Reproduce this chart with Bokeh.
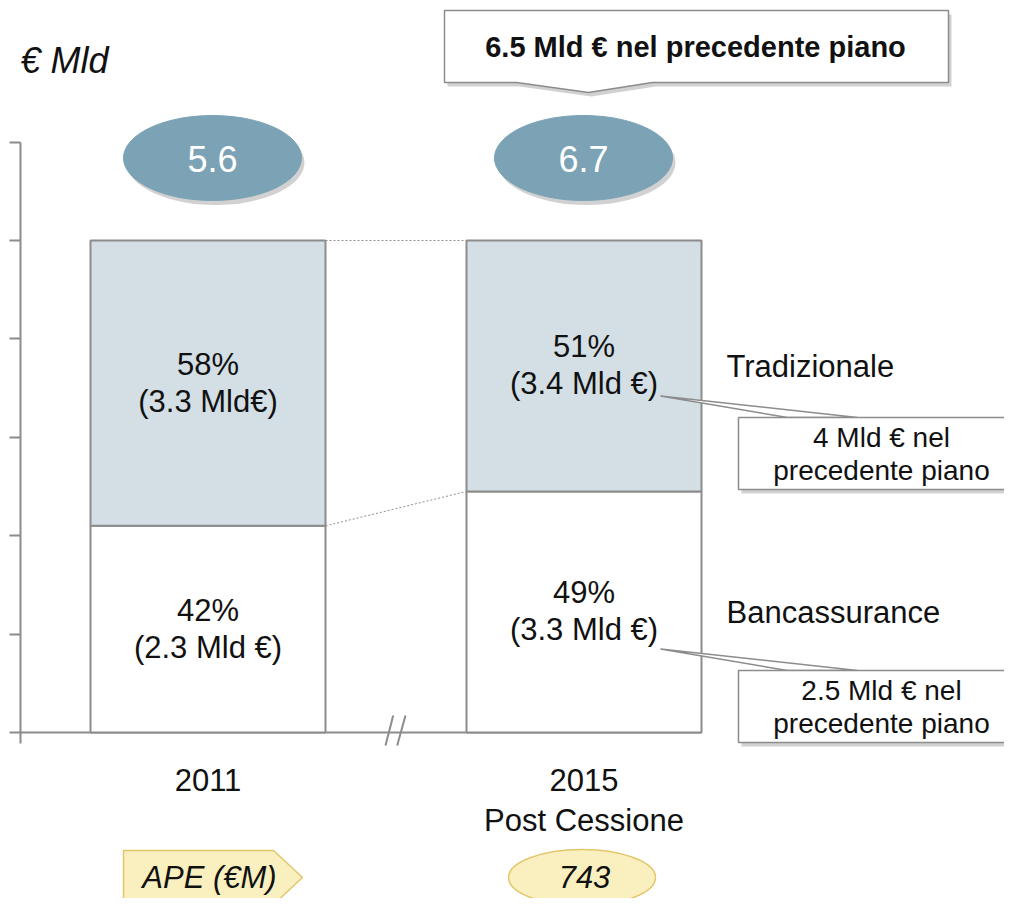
from bokeh.plotting import figure
from bokeh.models import Range1d, FixedTicker, ColumnDataSource
from bokeh.core.properties import value
from bokeh.embed import file_html
from bokeh.resources import INLINE

# ---------------- data ----------------
categories = ["2011", "2015"]
subtitles = ["", "Post Cessione"]
series_names = ["Bancassurance", "Tradizionale"]
banc_share = [42, 49]
trad_share = [58, 51]
banc_labels = ["(2.3 Mld €)", "(3.3 Mld €)"]
trad_labels = ["(3.3 Mld€)", "(3.4 Mld €)"]
totals = [5.6, 6.7]
prev_total_note = "6.5 Mld € nel precedente piano"
prev_trad_note = ["4 Mld € nel", "precedente piano"]
prev_banc_note = ["2.5 Mld € nel", "precedente piano"]
ape_label = "APE (€M)"
ape_2015 = 743
y_ticks = [0, 20, 40, 60, 80, 100, 120]
unit_label = "€ Mld"

# ---------------- layout helpers (pixel -> data) ----------------
W, H = 1004, 898
BORDER_L = 20
PX_PER_X = 376.0
PX_PER_Y = 4.92
X0_PX = 207.5
BASE_PX = 732.0
TS = -11.5  # text baseline correction (screen px)


def X(px):
    return 1 + (px - X0_PX) / PX_PER_X


def Y(py):
    return (BASE_PX - py) / PX_PER_Y


FONT = value("Liberation Sans")
TXT = "#111111"
GRAY = "#8c8c8c"
BAR_W = 235 / PX_PER_X

p = figure(width=W, height=H, output_backend="svg", toolbar_location=None,
           x_range=Range1d(X(BORDER_L), X(W)), y_range=Range1d(Y(H), Y(0)),
           min_border_left=BORDER_L, min_border_right=0, min_border_top=0,
           min_border_bottom=0, x_axis_location=None)
p.xgrid.visible = False
p.ygrid.visible = False
p.outline_line_color = None
p.background_fill_color = "white"

ax = p.yaxis[0]
ax.ticker = FixedTicker(ticks=y_ticks)
ax.major_label_text_font_size = "0px"
ax.major_label_overrides = {t: "" for t in y_ticks}
ax.major_label_standoff = 0
ax.major_tick_out = 11
ax.major_tick_in = 0
ax.minor_tick_line_color = None
ax.axis_line_color = GRAY
ax.axis_line_width = 2
ax.major_tick_line_color = GRAY
ax.major_tick_line_width = 2
ax.bounds = (Y(743), y_ticks[-1])

xs = [i + 1 for i in range(len(categories))]
tops = [b + t for b, t in zip(banc_share, trad_share)]
src = ColumnDataSource(dict(x=xs, banc=banc_share, top=tops,
                            banc_mid=[b / 2 for b in banc_share],
                            trad_mid=[b + t / 2 for b, t in zip(banc_share, trad_share)],
                            banc_pct=[f"{b}%" for b in banc_share],
                            trad_pct=[f"{t}%" for t in trad_share],
                            banc_lab=banc_labels, trad_lab=trad_labels,
                            cat=categories, sub=subtitles))

# baseline and break marks
p.segment(x0=[X(BORDER_L)], y0=[0], x1=[xs[1] + BAR_W / 2], y1=[0], line_color=GRAY, line_width=2)
p.segment(x0=[X(392.7), X(405)], y0=[Y(715), Y(715)], x1=[X(385), X(396.7)], y1=[Y(745), Y(745)],
          line_color=GRAY, line_width=2)

# bars
p.vbar(x="x", width=BAR_W, bottom=0, top="banc", source=src, fill_color="white",
       line_color=GRAY, line_width=2)
p.vbar(x="x", width=BAR_W, bottom="banc", top="top", source=src, fill_color="#d3dfe5",
       line_color=GRAY, line_width=2)

# dotted connectors
p.segment(x0=[xs[0] + BAR_W / 2] * 2, y0=[tops[0], banc_share[0]],
          x1=[xs[1] - BAR_W / 2] * 2, y1=[tops[1], banc_share[1]],
          line_color="#909090", line_width=1, line_dash="2 2")

# bar labels
common = dict(text_font=FONT, text_font_size=value("31px"), text_color=TXT,
              text_align="center", text_baseline="alphabetic")
p.text(x="x", y="trad_mid", text="trad_pct", y_offset=-7.5 + TS, source=src, **common)
p.text(x="x", y="trad_mid", text="trad_lab", y_offset=29.5 + TS, source=src, **common)
p.text(x="x", y="banc_mid", text="banc_pct", y_offset=-7.5 + TS, source=src, **common)
p.text(x="x", y="banc_mid", text="banc_lab", y_offset=29.5 + TS, source=src, **common)

# category labels
p.text(x="x", y=0, text="cat", y_offset=59 + TS, source=src, **common)
p.text(x="x", y=0, text="sub", y_offset=99 + TS, source=src, **common)

# series labels
left = dict(common, text_align="left")
p.text(x=[X(726), X(726)], y=[banc_share[1] + trad_share[1] / 2, banc_share[1] / 2],
       text=[series_names[1], series_names[0]], y_offset=12 + TS, **left)

# unit label
p.text(x=[X(20)], y=[Y(71)], y_offset=TS, text=[unit_label], text_font=FONT,
       text_font_size=value("36px"), text_font_style="italic", text_color=TXT,
       text_align="left", text_baseline="alphabetic")

# total ellipses
ex = [X(212), X(583)]
p.ellipse(x=[e + 3 / PX_PER_X for e in ex], y=[Y(162)] * 2, width=178 / PX_PER_X,
          height=85 / PX_PER_Y, fill_color="#9a9a9a", fill_alpha=0.45, line_color=None)
p.ellipse(x=ex, y=[Y(157.5)] * 2, width=178 / PX_PER_X, height=85 / PX_PER_Y,
          fill_color="#7ba3b5", line_color="#7ba3b5", line_width=1)
p.text(x=ex, y=[Y(170)] * 2, y_offset=TS, text=[f"{t:.1f}" for t in totals], text_font=FONT,
       text_font_size=value("36px"), text_color="white", text_align="center",
       text_baseline="alphabetic")

# top callout
tc_px = [(444, 10), (948, 10), (948, 82), (652, 82), (588, 92), (516, 82), (444, 82)]
p.patch(x=[X(a + 3) for a, b in tc_px], y=[Y(b + 4) for a, b in tc_px],
        fill_color="#999999", fill_alpha=0.45, line_color=None)
p.patch(x=[X(a) for a, b in tc_px], y=[Y(b) for a, b in tc_px],
        fill_color="white", line_color=GRAY, line_width=1.5)
p.text(x=[X(695)], y=[Y(58)], y_offset=TS, text=[prev_total_note], text_font=FONT,
       text_font_size=value("29px"), text_font_style="bold", text_color=TXT,
       text_align="center", text_baseline="alphabetic")

# side callouts
for dy, lines in ((0, prev_trad_note), (253, prev_banc_note)):
    wedge = [(660, 395.5 + dy), (787, 417 + dy), (857, 417 + dy)]
    p.patch(x=[X(a) for a, b in wedge], y=[Y(b) for a, b in wedge],
            fill_color="white", line_color=GRAY, line_width=1.5)
    p.quad(left=[X(741)], right=[X(1040)], top=[Y(420 + dy)], bottom=[Y(493 + dy)],
           fill_color="#999999", fill_alpha=0.45, line_color=None)
    p.quad(left=[X(738)], right=[X(1030)], top=[Y(417 + dy)], bottom=[Y(489 + dy)],
           fill_color="white", line_color=GRAY, line_width=1.5)
    p.text(x=[X(881), X(881)], y=[Y(448 + dy), Y(481 + dy)], y_offset=TS, text=lines,
           text_font=FONT, text_font_size=value("28px"), text_color=TXT, text_align="center",
           text_baseline="alphabetic")

# APE row (lifted slightly so its text fits inside the figure)
ape_px = [(123, 850), (273, 850), (302, 877), (273, 904), (123, 904)]
p.patch(x=[X(a) for a, b in ape_px], y=[Y(b) for a, b in ape_px],
        fill_color="#faf0bf", line_color="#e3c66c", line_width=1.5)
p.text(x=[X(209)], y=[Y(888)], y_offset=TS, text=[ape_label], text_font=FONT,
       text_font_size=value("31px"), text_font_style="italic", text_color=TXT,
       text_align="center", text_baseline="alphabetic")
p.ellipse(x=[X(581.5)], y=[Y(877)], width=147 / PX_PER_X, height=56 / PX_PER_Y,
          fill_color="#faf0bf", line_color="#e3c66c", line_width=1.5)
p.text(x=[X(584)], y=[Y(888)], y_offset=TS, text=[str(ape_2015)], text_font=FONT,
       text_font_size=value("31px"), text_font_style="italic", text_color=TXT,
       text_align="center", text_baseline="alphabetic")

open("out.html", "w").write(file_html(p, INLINE))
